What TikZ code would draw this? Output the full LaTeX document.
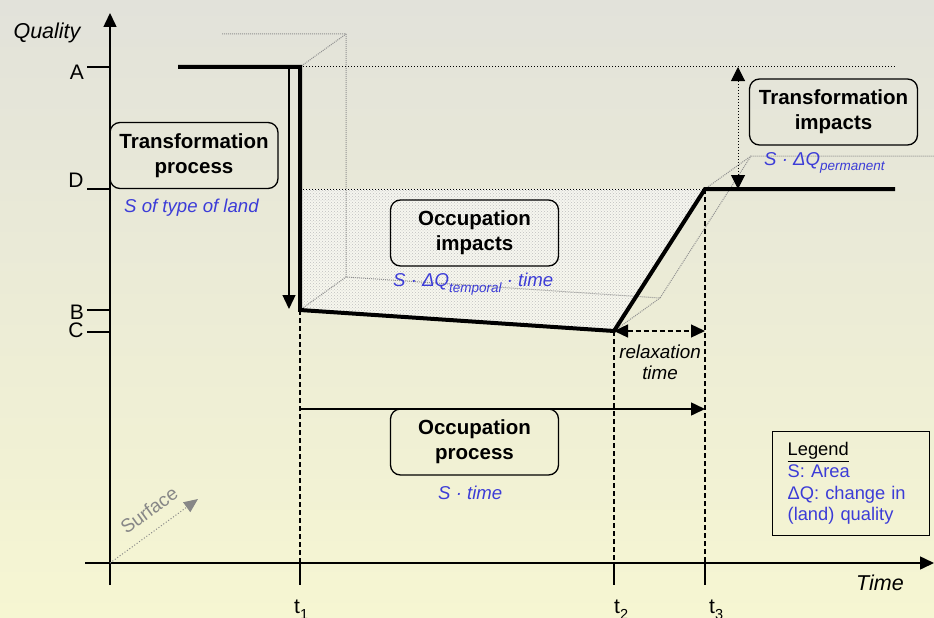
\documentclass[tikz,border=0pt]{standalone}
\usepackage{fontspec}
\setmainfont{Liberation Sans}
\usetikzlibrary{arrows.meta,patterns}
\definecolor{bgtop}{RGB}{226,226,218}
\definecolor{bgbot}{RGB}{246,246,210}
\definecolor{lblue}{RGB}{60,60,215}
\definecolor{grayline}{RGB}{145,145,145}
\definecolor{surfgray}{RGB}{135,135,135}
\newcommand\subt[2][13.5]{\raisebox{-0.3em}{\fontsize{#1}{#1}\selectfont #2}}
\begin{document}
\begin{tikzpicture}[x=1pt,y=-1pt,
  tri/.style={-{Triangle[length=14,width=13]}},
  axis/.style={line width=1.5, tri},
  tickline/.style={line width=1.3},
  curve/.style={line width=4, line join=miter},
  guide/.style={line width=1.3, dash pattern=on 5pt off 3pt},
  blackdot/.style={line width=1, dotted},
  box3d/.style={grayline, line width=1, dash pattern=on 1pt off 1pt},
  procbox/.style={draw, rounded corners=10, line width=1.3, minimum width=168, minimum height=66, align=center, inner sep=0, font=\fontsize{20.5}{25}\selectfont\bfseries},
  bluelbl/.style={text=lblue, inner sep=0, font=\fontsize{18.6}{20}\selectfont\itshape},
  axlbl/.style={inner sep=0, font=\fontsize{21}{22}\selectfont},
]
\shade[top color=bgtop, bottom color=bgbot] (0,0) rectangle (934,618);
\useasboundingbox (0,0) rectangle (934,618);

% key points
\coordinate (c0) at (178,67);
\coordinate (c1) at (300,67);
\coordinate (c2) at (300,310);
\coordinate (c3) at (614,331);
\coordinate (c4) at (705,189);
\coordinate (c5) at (895,189);
\coordinate (d1) at (300,189);
% back (3D) points
\coordinate (b0) at (222,34);
\coordinate (b1) at (346,34);
\coordinate (b2) at (346,277);
\coordinate (b3) at (660,298);
\coordinate (b4) at (751,156);
\coordinate (b5) at (934,156);

% hatched area
\fill[white, opacity=0.6] (d1) -- (c2) -- (c3) -- (c4) -- cycle;
\fill[pattern=crosshatch dots, pattern color=gray!50] (d1) -- (c2) -- (c3) -- (c4) -- cycle;

% 3D gray lines
\draw[box3d] (b0) -- (b1) -- (b2) -- (b3) -- (b4) -- (b5);
\draw[box3d] (c1) -- (b1);
\draw[box3d] (c2) -- (b2);
\draw[box3d] (c3) -- (b3);
\draw[box3d] (c4) -- (b4);

% black dotted lines
\coordinate (topend) at (895,67);
\draw[blackdot] (c1) -- (topend);
\draw[blackdot] (d1) -- (c4);

% axes
\coordinate (yb) at (110,585);
\coordinate (yt) at (110,13);
\coordinate (xl) at (85,563);
\coordinate (xr) at (934,563);
\draw[axis] (yb) -- (yt);
\draw[axis] (xl) -- (xr);

% y ticks
\foreach \n/\y in {A/67,D/189,B/310,C/332}{
  \coordinate (tk\n) at (87,\y);
  \coordinate (ax\n) at (110,\y);
  \draw[tickline] (tk\n) -- (ax\n);
}
\node[axlbl] (lA) at (77,72) {A};
\node[axlbl] (lD) at (76,180) {D};
\node[axlbl] (lB) at (77,312) {B};
\node[axlbl] (lC) at (76,330) {C};
\node[axlbl, font=\fontsize{21.5}{22}\selectfont\itshape] (lq) at (47,33) {Quality};
\node[axlbl, font=\fontsize{21.5}{22}\selectfont\itshape] (ltime) at (880,583) {Time};

% t ticks and guides
\foreach \n/\x/\yy in {1/300/310,2/614/331,3/705/189}{
  \coordinate (tt\n) at (\x,563);
  \coordinate (tb\n) at (\x,585);
  \coordinate (tg\n) at (\x,\yy);
  \draw[tickline] (tt\n) -- (tb\n);
  \draw[guide] (tg\n) -- (tt\n);
}
\node[axlbl, anchor=base west] (lt1) at (294,613) {t\subt[14.5]{1}};
\node[axlbl, anchor=base west] (lt2) at (614,613) {t\subt[14.5]{2}};
\node[axlbl, anchor=base west] (lt3) at (709,613) {t\subt[14.5]{3}};

% transformation arrow (down)
\coordinate (ta0) at (289,67);
\coordinate (ta1) at (289,309);
\draw[line width=1.3, tri] (ta0) -- (ta1);

% occupation process arrow
\coordinate (op0) at (300,409);
\coordinate (op1) at (705,409);
\draw[line width=1.5, tri] (op0) -- (op1);

% relaxation arrow
\coordinate (rx1) at (705,331);
\draw[guide, {Triangle[length=14,width=13]}-{Triangle[length=14,width=13]}] (c3) -- (rx1);
\node[inner sep=0, align=center, font=\fontsize{18.8}{21}\selectfont\itshape] (relax) at (660,362) {relaxation\\time};

% transformation impacts arrow
\coordinate (ti0) at (738,67);
\coordinate (ti1) at (738,189);
\draw[blackdot, {Triangle[length=14,width=14]}-{Triangle[length=14,width=14]}] (ti0) -- (ti1);

% thick curve
\draw[curve] (c0) -- (c1) -- (c2) -- (c3) -- (c4) -- (c5);

% surface arrow
\coordinate (so) at (110,563);
\coordinate (se) at (198,499);
\draw[surfgray, line width=1, dotted, -{Triangle[length=14,width=12]}] (so) -- (se);
\node[inner sep=0, text=surfgray, rotate=36, font=\fontsize{19}{20}\selectfont] (surf) at (149,510) {Surface};

% boxes
\node[procbox] (tp) at (194,155.5) {Transformation\\process};
\node[procbox] (oi) at (474.5,233) {Occupation\\impacts};
\node[procbox] (op) at (474.5,442) {Occupation\\process};
\node[procbox] (ti) at (833.5,112) {Transformation\\impacts};

% blue labels
\node[bluelbl, anchor=west] (ltp) at (124,208) {S of type of land};
\node[bluelbl, anchor=west] (loi) at (393,284) {S · ΔQ\subt{temporal} · time};
\node[bluelbl, anchor=west] (lti) at (764,163) {S · ΔQ\subt{permanent}};
\node[bluelbl, anchor=west] (lop) at (438,493) {S · time};

% legend
\node[draw, line width=1.3, anchor=north west, minimum width=157, minimum height=104,
      text width=127, inner xsep=15, inner ysep=0, align=left,
      font=\fontsize{18.3}{21.7}\selectfont] (leg) at (772,431)
  {\underline{Legend}\\\textcolor{lblue}{S: Area}\\\textcolor{lblue}{ΔQ: change in}\\\textcolor{lblue}{(land) quality}};
\end{tikzpicture}
\end{document}
